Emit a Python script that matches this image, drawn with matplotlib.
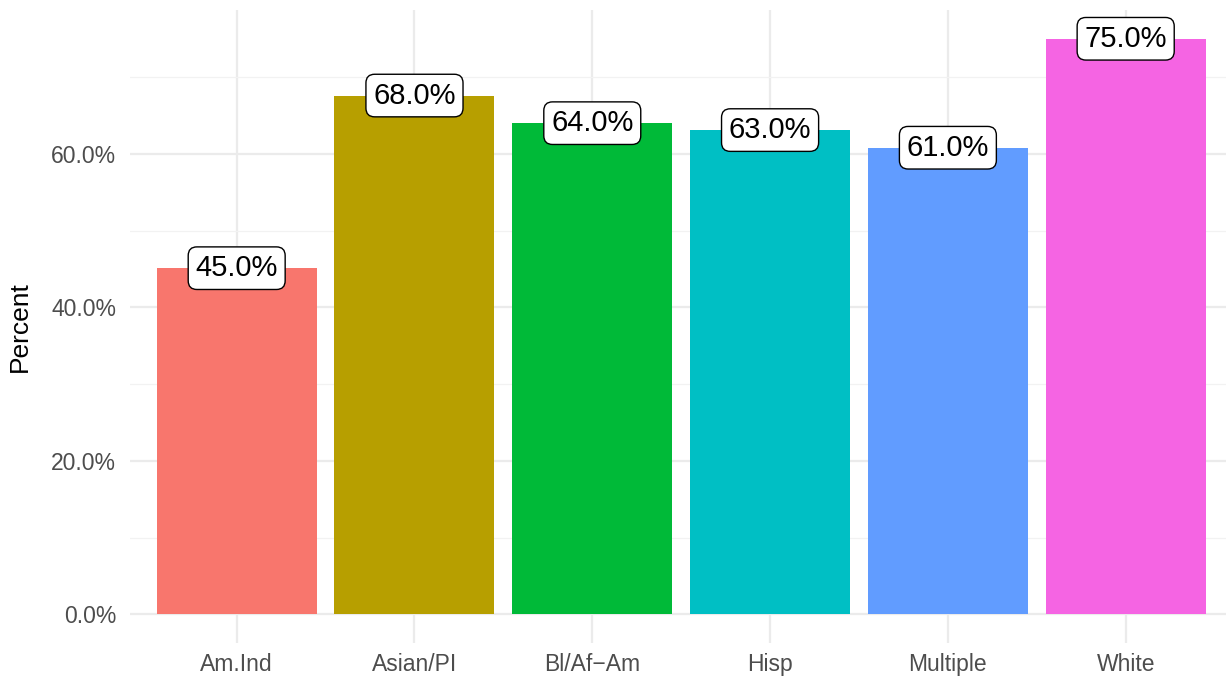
import numpy as np
import matplotlib
matplotlib.use("Agg")
import matplotlib.pyplot as plt

plt.rcParams["font.family"] = ["Liberation Sans", "DejaVu Sans"]

# ── data ──────────────────────────────────────────────────────────────────────
groups  = ["Am.Ind", "Asian/PI", "Bl/Af\u2212Am", "Hisp", "Multiple", "White"]
percent = [45.1, 67.6, 64.0, 63.1, 60.8, 75.0]
labels  = ["45.0%", "68.0%", "64.0%", "63.0%", "61.0%", "75.0%"]
colors  = ["#F8766D", "#B79F00", "#00BA38", "#00BFC4", "#619CFF", "#F564E3"]
yticks  = [0, 20, 40, 60]

W, H = 1226, 679
fig = plt.figure(figsize=(W / 100, H / 100), dpi=100)
# panel: x from 130 px, 177.8 px per category; y from 10 to 643 px
ax = fig.add_axes([130 / W, (H - 643) / H, 6.2 * 177.8 / W, 633 / H])

x = np.arange(len(groups))
ax.bar(x, percent, width=0.9, color=colors, zorder=2)

for xi, yi, lab in zip(x, percent, labels):
    ax.text(xi, yi, lab, ha="center", va="center", fontsize=21, color="black",
            zorder=3,
            bbox=dict(boxstyle="round,pad=0.25,rounding_size=0.3",
                      fc="white", ec="black", lw=1.0))

ax.set_xlim(-0.6, 5.6)
ax.set_ylim(-3.75, 78.75)
ax.set_xticks(x)
ax.set_xticklabels(groups)
ax.set_yticks(yticks)
ax.set_yticklabels([f"{v:.1f}%" for v in yticks])
ax.set_yticks([10, 30, 50, 70], minor=True)

ax.grid(True, which="major", color="#EBEBEB", lw=1.6, zorder=0)
ax.grid(True, which="minor", axis="y", color="#F2F2F2", lw=0.9, zorder=0)
ax.tick_params(which="both", length=0, labelsize=16.5, colors="#4D4D4D", pad=10)
ax.tick_params(axis="x", pad=7)
for s in ax.spines.values():
    s.set_visible(False)

ax.set_ylabel("Percent", fontsize=19, color="black", labelpad=14)

fig.savefig("out.png", dpi=100)
